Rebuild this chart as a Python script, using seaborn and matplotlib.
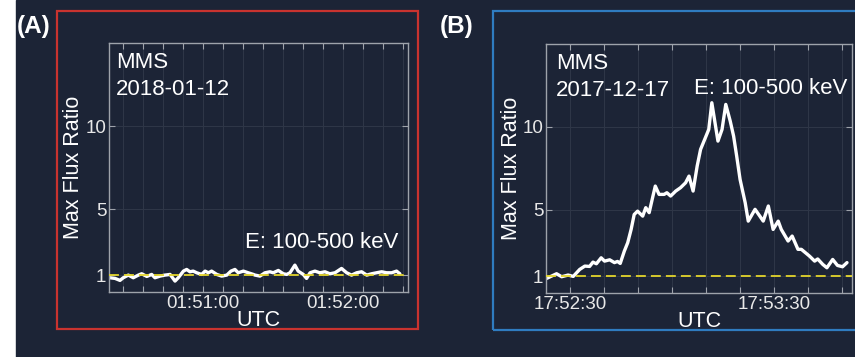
import numpy as np
import pandas as pd
import seaborn as sns
import matplotlib.pyplot as plt
from matplotlib.patches import Rectangle
from matplotlib.ticker import MultipleLocator

BG = '#1c2436'
GRID = '#2f3748'
SPINE = '#9ea3ab'
YEL = '#e3d52c'

sns.set_theme(style='dark')
plt.rcParams['font.family'] = ['Liberation Sans', 'DejaVu Sans']

# panel A, seconds after 01:51:00
a_time = [-39.9, -37.7, -35.6, -34.2, -32.0, -29.9, -27.7, -26.3, -24.1, -22.0,
          -20.6, -18.4, -16.3, -14.1, -12.0, -10.6, -8.4, -7.0, -5.6, -4.2,
          -2.7, -0.6, 0.9, 2.3, 3.7, 5.9, 8.0, 10.2, 12.0, 13.7,
          15.1, 17.3, 19.4, 21.6, 22.3, 24.4, 26.6, 28.7, 30.1, 32.3,
          34.4, 35.9, 37.3, 39.4, 40.8, 43.0, 44.4, 45.9, 48.0, 50.1,
          52.3, 54.4, 56.6, 59.4, 61.6, 63.7, 65.9, 68.0, 70.2, 72.3,
          74.4, 76.6, 78.7, 80.9, 83.0, 84.4]
a_ratio = [0.86, 0.82, 0.70, 0.86, 1.02, 0.86, 1.02, 1.10, 0.94, 1.06,
           0.86, 0.96, 1.02, 1.06, 0.66, 0.86, 1.26, 1.36, 1.22, 1.26,
           1.16, 1.06, 1.26, 1.16, 1.26, 1.06, 0.96, 1.02, 1.26, 1.36,
           1.16, 1.26, 1.16, 1.06, 1.02, 0.96, 1.16, 1.22, 1.16, 1.30,
           1.10, 1.06, 1.16, 1.62, 1.26, 1.06, 0.82, 1.16, 1.26, 1.16,
           1.22, 1.10, 1.16, 1.42, 1.16, 1.02, 1.16, 1.22, 1.02, 1.10,
           1.16, 1.22, 1.16, 1.16, 1.26, 1.10]

# panel B, seconds after 17:52:30
b_time = [-6.8, -3.9, -2.4, -0.5, 1.0, 2.9, 4.4, 5.8, 6.8, 7.8,
          9.2, 10.2, 11.7, 13.1, 14.0, 14.8, 16.0, 17.0, 18.0, 18.9,
          19.9, 21.4, 22.3, 23.3, 24.3, 25.1, 26.2, 27.7, 28.5, 29.6,
          31.1, 32.5, 34.0, 35.0, 36.2, 37.4, 38.4, 39.8, 40.8, 41.7,
          43.5, 44.7, 45.8, 47.1, 48.1, 49.0, 50.0, 51.5, 52.4, 54.4,
          55.8, 56.8, 58.3, 59.7, 61.2, 62.1, 64.1, 65.3, 67.0, 68.0,
          70.4, 71.9, 72.8, 74.3, 75.5, 77.2, 78.6, 80.1, 81.4]
b_ratio = [0.88, 1.16, 0.98, 1.08, 1.00, 1.42, 1.62, 1.60, 1.86, 1.76,
           2.12, 1.92, 2.00, 1.83, 1.90, 1.78, 2.52, 3.03, 3.83, 4.73,
           4.93, 4.63, 5.14, 4.84, 5.74, 6.44, 5.94, 5.94, 6.04, 5.84,
           6.14, 6.34, 6.64, 7.04, 6.14, 7.65, 8.65, 9.35, 9.85, 11.46,
           9.15, 9.85, 11.36, 10.36, 9.45, 8.25, 6.84, 5.44, 4.33, 5.04,
           4.63, 4.33, 5.24, 3.83, 4.33, 3.83, 3.13, 3.43, 2.63, 2.63,
           2.22, 1.92, 2.05, 1.72, 1.52, 2.02, 1.66, 1.58, 1.83]

yticks = [1, 5, 10]
a_ticklabels = ['01:51:00', '01:52:00']
b_ticklabels = ['17:52:30', '17:53:30']

fig = plt.figure(figsize=(8.55, 3.57), dpi=100, facecolor='white')
fig.add_artist(Rectangle((16 / 855, 0), 1, 1, transform=fig.transFigure,
                         color=BG, zorder=-10))

axA = fig.add_axes([0.1275, 0.182, 0.3497, 0.6975])
axB = fig.add_axes([0.6386, 0.1793, 0.358, 0.6975])


def style(ax, lo, hi, step, labels):
    ax.set_facecolor(BG)
    ax.set_xlim(lo, hi)
    ax.set_ylim(0, 15)
    ax.set_yticks(yticks)
    ax.set_yticklabels([str(v) for v in yticks])
    ax.set_xticks([0, 60])
    ax.set_xticklabels(labels)
    ax.xaxis.set_minor_locator(MultipleLocator(step))
    ax.grid(True, which='both', axis='x', color=GRID, lw=0.7)
    ax.grid(True, which='major', axis='y', color=GRID, lw=0.7)
    ax.tick_params(which='both', direction='in', top=True, right=True,
                   bottom=True, left=True, length=4, width=0.8, color=SPINE,
                   labelcolor='#e8e8e8', labelsize=13.5, pad=2)
    for s in ax.spines.values():
        s.set_color(SPINE)
        s.set_linewidth(1.0)
    ax.set_xlabel('UTC', fontsize=15.5, color='white')
    ax.xaxis.set_label_coords(0.5, -0.072)
    ax.set_ylabel('Max Flux Ratio', fontsize=15.5, color='white')


dfA = pd.DataFrame({'t': a_time, 'ratio': a_ratio})
dfB = pd.DataFrame({'t': b_time, 'ratio': b_ratio})

sns.lineplot(data=dfA, x='t', y='ratio', ax=axA, color='white', lw=2.4)
sns.lineplot(data=dfB, x='t', y='ratio', ax=axB, color='white', lw=2.4)
for ax in (axA, axB):
    ax.axhline(1, color=YEL, lw=1.3, ls=(0, (5.5, 2.8)), zorder=3)

style(axA, -40.3, 87.9, 60 / 7, a_ticklabels)
style(axB, -7.0, 82.9, 10, b_ticklabels)
axA.yaxis.set_label_coords(-0.082, 0.5)
axB.yaxis.set_label_coords(-0.079, 0.5)

kw = dict(color='white', fontsize=16, va='center')
axA.text(0.023, 0.92, 'MMS', transform=axA.transAxes, **kw)
axA.text(0.023, 0.815, '2018-01-12', transform=axA.transAxes, **kw)
axA.text(0.967, 0.20, 'E: 100-500 keV', transform=axA.transAxes, ha='right', **kw)
axB.text(0.033, 0.92, 'MMS', transform=axB.transAxes, **kw)
axB.text(0.033, 0.815, '2017-12-17', transform=axB.transAxes, **kw)
axB.text(0.484, 0.823, 'E: 100-500 keV', transform=axB.transAxes, **kw)

fig.add_artist(Rectangle((0.0667, 0.0784), 0.4222, 0.8908, transform=fig.transFigure,
                         fill=False, ec='#c9332f', lw=1.6))
fig.add_artist(Rectangle((0.5766, 0.0756), 0.45, 0.8936, transform=fig.transFigure,
                         fill=False, ec='#2f7cc0', lw=1.6))

fig.text(34 / 855, 1 - 27 / 357, '(A)', ha='center', va='center', fontsize=17.5,
         weight='bold', color='white')
fig.text(457 / 855, 1 - 27 / 357, '(B)', ha='center', va='center', fontsize=17.5,
         weight='bold', color='white')

fig.savefig('out.png', dpi=100, facecolor=fig.get_facecolor())
